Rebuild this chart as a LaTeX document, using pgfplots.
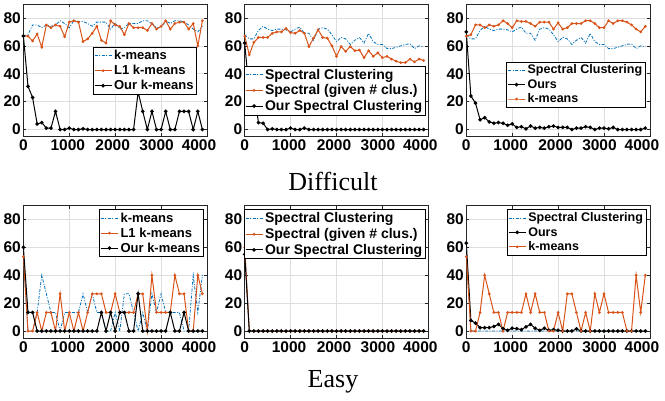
\documentclass[border=0pt]{standalone}
\usepackage{fontspec}
\setmainfont{Liberation Serif}
\newfontfamily\hv{Liberation Sans}
\usepackage{pgfplots}
\pgfplotsset{compat=1.18}
\usepackage{pgfplotstable}

\definecolor{mblue}{rgb}{0,0.447,0.741}
\definecolor{morange}{rgb}{0.85,0.325,0.098}
\definecolor{gridgray}{gray}{0.87}
\definecolor{axgray}{gray}{0.15}

\pgfplotsset{
  panel/.style={
    scale only axis, width=183.6pt, height=132.5pt,
    xmin=0, xmax=4000, ymin=-5, ymax=90,
    xtick={0,1000,2000,3000,4000}, ytick={0,20,40,60,80},
    xticklabels={0,\hspace*{-3pt}1000,\hspace*{-5pt}2000,\hspace*{-9pt}3000,\hspace*{-16pt}4000},
    yticklabel style={xshift=1pt},
    /pgf/number format/assume math mode=true,
    ticklabel style={font=\hv\bfseries\fontsize{15.5}{15.5}\selectfont},
    grid=major, grid style={draw=gridgray, line width=0.5pt},
    axis line style={draw=axgray, line width=0.6pt},
    tick style={draw=axgray, line width=0.6pt},
    tick align=inside, major tick length=3pt,
    legend cell align=left,
    legend style={font=\hv\bfseries\fontsize{13}{14}\selectfont,
      draw=black, line width=0.6pt, fill=white, inner sep=1pt,
      row sep=0pt},
  },
  bigleg/.style={legend style={font=\hv\bfseries\fontsize{14}{15}\selectfont}},
  smallleg/.style={legend style={font=\hv\bfseries\fontsize{12.5}{13.5}\selectfont}},
  kmline/.style={mblue, line width=0.8pt,
    dash pattern=on 3pt off 1.5pt on 1pt off 1.5pt, mark=none},
  orline/.style={morange, line width=1pt, mark=*, mark size=0.8pt,
    mark options={solid}},
  blline/.style={black, line width=1pt, mark=*, mark size=1.3pt,
    mark options={solid}},
}

% difficult: k-means, L1 k-means, ours
\pgfplotstableread{
x km l1 our
0 67 67 67
100 68 67 31
200 75 63.5 23
300 75 68.5 4
400 73 59 5
500 75 75 1
600 74 73 1
700 75 75 13
800 78 74 0
900 76 66.5 0
1000 73 77 1
1100 78 78 0
1200 77.5 77 0
1300 77.5 63 0.5
1400 76 65 0
1500 74 69 0
1600 77 74 0
1700 77 64 0
1800 77 62 0
1900 72 78 0
2000 76.5 75 0
2100 72 74 0
2200 73 68 0
2300 76 76 0
2400 76 73 0
2500 76 73 27
2600 78 73 13
2700 78 71 0
2800 76 76 13
2900 73 72 0
3000 73 74 0
3100 78 78 13
3200 76 72 0
3300 78 76 0
3400 78 77 13
3500 77 77 13
3600 75 72 13
3700 72 76 0
3800 70 60 13
3900 74 78 0
}\diffkm

% difficult: spectral, spectral given #, ours
\pgfplotstableread{
x sc given our
0 68 67 62
100 65 53.5 26
200 65 62.5 27
300 71 66 5
400 74 66 4.5
500 72 66 0
600 71 69 0.5
700 72 70 0
800 72 70 0
900 71.5 72.5 0
1000 70 69.5 1
1100 72 69 0
1200 73.5 71 0
1300 69 69 1
1400 69 59.5 0
1500 64 65.5 0
1600 72 71.5 0
1700 73 66 0
1800 72 65.5 0
1900 68 60 0
2000 63 52.5 0
2100 66 59.5 0
2200 65 56 0
2300 61 59.5 0
2400 64 56.5 0
2500 66 57 0
2600 62 51.5 0
2700 69 56.5 0
2800 63 52.5 0
2900 61 55 0
3000 61 51.5 0
3100 58 52.5 0
3200 58 50.5 0
3300 59 49 0
3400 60 48 0
3500 61 48 0
3600 61.5 50.5 0
3700 58 48.5 0
3800 60 50.5 0
3900 59.5 49.5 0
}\diffsc

% difficult: ours (third panel)
\pgfplotstableread{
x ours
0 70
100 24
200 19
300 7
400 8.5
500 5.5
600 4.5
700 5
800 4.5
900 3
1000 4
1100 1.5
1200 2
1300 0.5
1400 2.5
1500 1
1600 1.5
1700 1
1800 2
1900 2.5
2000 1.5
2100 1.5
2200 1.5
2300 0
2400 1
2500 1
2600 2
2700 1.5
2800 0
2900 1
3000 1
3100 0.5
3200 1.5
3300 0
3400 0
3500 0
3600 0
3700 0
3800 0
3900 1
}\diffours

% easy: k-means, L1 k-means, ours (k-means), ours (third panel)
\pgfplotstableread{
x km l1 our ours
0 53.3 53.3 60 63
100 0 0 13.3 7.6
200 0 0 13.3 5.7
300 13.3 13.3 0 2.4
400 40 0 0 2.4
500 26.7 13.3 0 2.4
600 13.3 13.3 0 3.3
700 13.3 0 0 4.8
800 0 26.7 0 1.7
900 13.3 0 0 0.5
1000 13.3 13.3 0 2
1100 13.3 0 0 1.7
1200 13.3 13.3 0 1
1300 26.7 0 0 3
1400 13.3 13.3 0 4.8
1500 26.7 26.7 0 2
1600 13.3 26.7 0 0.5
1700 13.3 26.7 13.3 2
1800 0 13.3 0 0.5
1900 0 13.3 13.3 1
2000 13.3 26.7 0 0.5
2100 0 13.3 13.3 0
2200 26.7 13.3 13.3 0
2300 26.7 13.3 0 0
2400 13.3 13.3 0 1.5
2500 0 26.7 26.7 0
2600 13.3 26.7 0 0
2700 0 0 0 0
2800 26.7 40 0 0
2900 13.3 13.3 0 0
3000 26.7 13.3 0 0
3100 13.3 13.3 0 0
3200 13.3 13.3 13.3 0
3300 13.3 40 0 0
3400 13.3 26.7 0 0
3500 0 26.7 13.3 0
3600 0 0 0 0
3700 40 0 0 0
3800 13.3 40 0 0
3900 40 26.7 0 0
}\easykm

% easy: spectral, spectral given #, ours
\pgfplotstableread{
x sc given our
0 60 60 55
100 0 0 0
200 0 0 0
300 0 0 0
400 0 0 0
500 0 0 0
600 0 0 0
700 0 0 0
800 0 0 0
900 0 0 0
1000 0 0 0
1100 0 0 0
1200 0 0 0
1300 0 0 0
1400 0 0 0
1500 0 0 0
1600 0 0 0
1700 0 0 0
1800 0 0 0
1900 0 0 0
2000 0 0 0
2100 0 0 0
2200 0 0 0
2300 0 0 0
2400 0 0 0
2500 0 0 0
2600 0 0 0
2700 0 0 0
2800 0 0 0
2900 0 0 0
3000 0 0 0
3100 0 0 0
3200 0 0 0
3300 0 0 0
3400 0 0 0
3500 0 0 0
3600 0 0 0
3700 0 0 0
3800 0 0 0
3900 0 0 0
}\easysc

\begin{document}
\begin{tikzpicture}
\useasboundingbox (0,0) rectangle (665pt,-400pt);

% ---- Difficult ----
\begin{axis}[panel, at={(23.4pt,-4pt)}, anchor=north west,
  legend style={at={(0.945,0.675)}, anchor=north east}]
\addplot[kmline] table[x=x, y=km] {\diffkm};
\addplot[orline] table[x=x, y=l1] {\diffkm};
\addplot[blline] table[x=x, y=our] {\diffkm};
\legend{k-means, L1 k-means, Our k-means}
\end{axis}

\begin{axis}[panel, bigleg, at={(244.7pt,-4pt)}, anchor=north west,
  legend style={at={(0.985,0.535)}, anchor=north east}]
\addplot[kmline] table[x=x, y=sc] {\diffsc};
\addplot[orline] table[x=x, y=given] {\diffsc};
\addplot[blline] table[x=x, y=our] {\diffsc};
\legend{Spectral Clustering, Spectral (given \# clus.), Our Spectral Clustering}
\end{axis}

\begin{axis}[panel, smallleg, at={(466.3pt,-4pt)}, anchor=north west,
  legend style={at={(0.976,0.565)}, anchor=north east}]
\addplot[kmline] table[x=x, y=sc] {\diffsc};
\addplot[blline] table[x=x, y=ours] {\diffours};
\addplot[orline] table[x=x, y=km] {\diffkm};
\legend{Spectral Clustering, Ours, k-means}
\end{axis}

% ---- Easy ----
\begin{axis}[panel, at={(23.4pt,-205.5pt)}, anchor=north west,
  legend style={at={(0.98,0.97)}, anchor=north east}]
\addplot[kmline] table[x=x, y=km] {\easykm};
\addplot[orline] table[x=x, y=l1] {\easykm};
\addplot[blline] table[x=x, y=our] {\easykm};
\legend{k-means, L1 k-means, Our k-means}
\end{axis}

\begin{axis}[panel, bigleg, at={(244.7pt,-205.5pt)}, anchor=north west,
  legend style={at={(0.985,0.97)}, anchor=north east}]
\addplot[kmline] table[x=x, y=sc] {\easysc};
\addplot[orline] table[x=x, y=given] {\easysc};
\addplot[blline] table[x=x, y=our] {\easysc};
\legend{Spectral Clustering, Spectral (given \# clus.), Our Spectral Clustering}
\end{axis}

\begin{axis}[panel, smallleg, at={(466.3pt,-205.5pt)}, anchor=north west,
  legend style={at={(0.98,0.97)}, anchor=north east}]
\addplot[kmline] table[x=x, y=sc] {\easysc};
\addplot[blline] table[x=x, y=ours] {\easykm};
\addplot[orline] table[x=x, y=km] {\easykm};
\legend{Spectral Clustering, Ours, k-means}
\end{axis}

\node[font=\fontsize{26}{26}\selectfont] at (333pt,-181pt) {Difficult};
\node[font=\fontsize{26}{26}\selectfont] at (333pt,-382pt) {Easy};
\end{tikzpicture}
\end{document}
